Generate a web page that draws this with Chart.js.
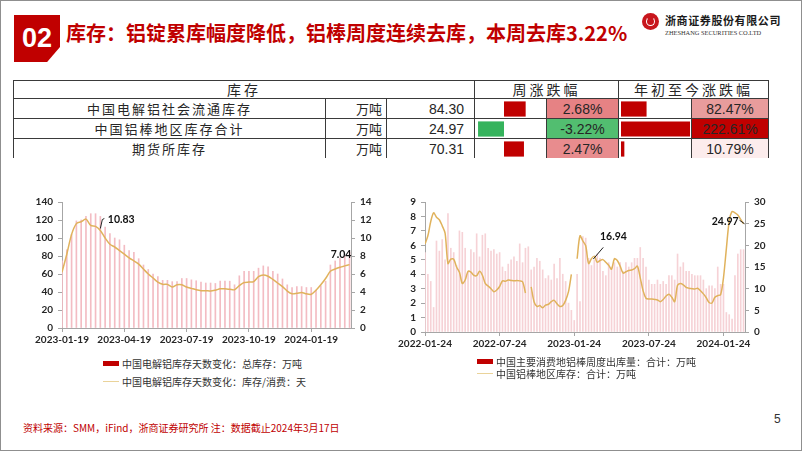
<!DOCTYPE html>
<html lang="zh">
<head>
<meta charset="utf-8">
<title>库存</title>
<script src="https://cdn.jsdelivr.net/npm/chart.js@4.4.1/dist/chart.umd.min.js"></script>
<style>
  html, body { margin: 0; padding: 0; background: #fff; }
  body { width: 802px; height: 451px; position: relative; overflow: hidden;
         font-family: "Noto Sans CJK SC", "Noto Sans", sans-serif; }
  .frame { position: absolute; left: 0; top: 0; width: 800px; height: 449px; border: 1px solid #8f8f8f; }
  .badge { position: absolute; left: 14px; top: 15px; width: 46px; height: 47px; background: #c00000;
           clip-path: polygon(0 0, 100% 0, 100% 68%, 72% 100%, 0 100%);
           color: #fff; font: bold 27px "Liberation Sans", Arial, sans-serif; line-height: 47px; text-align: center; }
  .title { position: absolute; left: 66px; top: 19px; font-size: 20px; font-weight: bold; color: #c00000;
           white-space: nowrap; line-height: 28px; }
  .logo { position: absolute; left: 642px; top: 13px; width: 17px; height: 17px; border-radius: 50%; background: #c8161d; }
  .logo::after { content: ""; position: absolute; left: 4px; top: 4px; width: 7px; height: 7px; border-radius: 50%;
                 border: 1.5px solid #fff; border-top-color: transparent; }
  .logo-cn { position: absolute; left: 665px; top: 12px; font-size: 11px; font-weight: bold; color: #1a1a1a; letter-spacing: 0.6px; }
  .logo-en { position: absolute; left: 665px; top: 29px; font: 6.4px "Liberation Serif", serif; color: #333; white-space: nowrap; }

  table.inv { position: absolute; left: 13px; top: 80px; border-collapse: collapse; table-layout: fixed; width: 755px; }
  table.inv td { border: 1px solid #3a3a3a; padding: 0; height: 19px; line-height: 19px; font-size: 13px;
                 color: #262626; white-space: nowrap; overflow: hidden; }
  table.inv tr.head td { height: 17px; line-height: 17px; text-align: center; font-size: 14px; letter-spacing: 3px; }
  table.inv tr:last-child td { border-bottom: none; }
  td.name { text-align: center; letter-spacing: 2px; }
  td.unit { text-align: right; padding-right: 4px !important; }
  td.val { text-align: right; padding-right: 10px !important; font: 14px "Liberation Sans", Arial, sans-serif !important; }
  td.pct { text-align: center; font: 14px "Liberation Sans", Arial, sans-serif !important; }
  .mini { position: absolute; top: 99px; }

  .legend { position: absolute; font-size: 10px; color: #333; }
  .legend .row { display: flex; align-items: center; white-space: nowrap; }
  .legend .sw { width: 16px; margin-right: 3px; flex: none; }
  .note { position: absolute; left: 23px; top: 420px; font-size: 10px; color: #c00000; white-space: nowrap; }
  .page { position: absolute; left: 774px; top: 412px; font: 12px "Liberation Sans", Arial, sans-serif; color: #333; }
  canvas.main { position: absolute; }
</style>
</head>
<body>
<div class="frame"></div>
<div class="badge">02</div>
<div class="title">库存：铝锭累库幅度降低，铝棒周度连续去库，本周去库3.22%</div>
<div class="logo"></div>
<div class="logo-cn">浙商证券股份有限公司</div>
<div class="logo-en">ZHESHANG SECURITIES CO.LTD</div>

<table class="inv" id="inv">
  <colgroup>
    <col style="width:312px"><col style="width:61px"><col style="width:88px">
    <col style="width:72px"><col style="width:72px"><col style="width:73px"><col style="width:77px">
  </colgroup>
  <tbody>
    <tr class="head"><td colspan="3">库存</td><td colspan="2">周涨跌幅</td><td colspan="2">年初至今涨跌幅</td></tr>
  </tbody>
</table>
<canvas class="mini" id="weekBars" width="72" height="60" style="left:474px"></canvas>
<canvas class="mini" id="ytdBars" width="73" height="60" style="left:618px"></canvas>

<canvas class="main" id="aluChart" width="385" height="162" style="left:10px;top:190px"></canvas>
<canvas class="main" id="rodChart" width="395" height="166" style="left:395px;top:190px"></canvas>

<div class="legend" id="aluLegend" style="left:103px;top:354px"></div>
<div class="legend" id="rodLegend" style="left:477px;top:355px"></div>

<div class="note">资料来源：SMM，iFind，浙商证券研究所 注：数据截止2024年3月17日</div>
<div class="page">5</div>

<script>
// table data
const invNames = ["中国电解铝社会流通库存", "中国铝棒地区库存合计", "期货所库存"];
const invUnits = ["万吨", "万吨", "万吨"];
const invValues = [84.30, 24.97, 70.31];
const weekChg = [2.68, -3.22, 2.47];
const ytdChg = [82.47, 222.61, 10.79];

// left chart: 电解铝 weekly
const aluTicks = ["2023-01-19", "2023-04-19", "2023-07-19", "2023-10-19", "2024-01-19"];
const aluStock = [74.5, 87, 104, 119, 120, 124, 127, 127, 124, 112,
  105, 100, 98, 92, 86, 84, 77, 70, 65, 60,
  57, 53, 53, 51.5, 51.5, 55, 55, 53.5, 52.5, 51,
  50, 50, 49.5, 52, 52, 52, 48, 58, 63, 63,
  63, 66.5, 69, 68, 63, 60, 54.5, 48, 45, 46,
  46, 45, 45, 42, 47, 52, 70, 74.5, 77.5, 80, 84.3];
const aluDays = [6.2, 8.2, 10.4, 11.6, 11.8, 12.1, 11.4, 11.3, 10.83, 10.0,
  9.3, 9.0, 8.6, 8.2, 7.8, 7.45, 7.1, 6.55, 6.0, 5.55,
  5.1, 4.85, 4.85, 4.55, 4.8, 4.8, 4.55, 4.4, 4.25, 4.15,
  4.15, 4.1, 4.2, 4.35, 4.35, 4.3, 4.25, 4.7, 5.05, 5.1,
  5.15, 5.7, 5.9, 5.75, 5.4, 5.0, 4.6, 4.1, 3.8, 3.85,
  3.95, 3.8, 3.75, 4.2, 4.8, 5.5, 6.3, 6.55, 6.75, 6.9, 7.04];

// right chart: 铝棒 weekly
const rodTicks = ["2022-01-24", "2022-07-24", "2023-01-24", "2023-07-24", "2024-01-24"];
const rodOutflow = [5.5, 4.0, 3.5, 1.7, 6.3, 5.6, 6.4, 5.0, 8.2, 5.8,
  5.5, 4.6, 7.0, 6.9, 5.8, 4.2, 5.7, 5.5, 6.8, 5.2,
  6.7, 6.8, 5.8, 5.6, 5.7, 5.4, 5.5, 4.5, 4.2, 4.7,
  5.0, 5.2, 4.9, 6.1, 4.8, 5.8, 5.9, 4.3, 4.5, 5.1,
  4.9, 4.3, 3.7, 3.9, 3.6, 4.7, 3.7, 5.1, 4.0, 3.5,
  2.0, 1.5, 0.8, 4.0, 2.1, 6.6, 6.5, 5.1, 4.6, 5.0,
  5.4, 5.1, 4.2, 3.9, 4.8, 4.5, 4.8, 4.5, 4.8, 4.2,
  4.8, 4.5, 4.8, 5.1, 5.1, 5.85, 5.1, 4.5, 3.6, 3.3,
  3.3, 3.6, 3.3, 3.5, 3.3, 3.9, 3.9, 3.6, 5.4, 4.5,
  4.8, 4.2, 4.2, 4.0, 3.9, 3.9, 3.9, 3.6, 3.0, 3.2,
  3.2, 3.0, 4.5, 3.3, 3.3, 1.35, 1.2, 0.9, 3.9, 5.4, 5.7, 5.7];
const rodStock = [20.3, 22.2, 25.5, 27.5, 26.5, 25.9, 24.5, 22.8, 15.8, 16.8,
  16.8, 15.0, 13.8, 11.2, 12.0, 14.0, 13.8, 13.1, 13.0, 14.0,
  13.1, 11.2, 10.6, 10.0, 9.3, 9.7, 10.5, 11.8, 11.7, 12.0,
  11.9, 11.8, 11.9, 11.8, 11.6, 9.0, null, 10.4, 7.0, 5.9,
  6.1, 5.6, 6.2, 6.4, 7.0, 7.3, 6.5, 5.9, 6.1, 7.3,
  9.3, 13.3, null, 16.9, 22.2, 21.0, 19.9, 15.8, 16.94, 17.5,
  16.1, 16.5, 16.7, 16.1, 15.4, 14.5, 16.9, 16.5, 15.2, 13.6,
  13.9, 14.2, 14.3, 14.6, 15.2, 12.5, 9.5, 7.8, 7.6, 7.6,
  7.5, 7.4, 7.0, 7.5, 8.3, 8.7, 8.0, 7.0, 10.8, 11.2,
  10.9, 10.3, 10.1, 10.0, 9.9, 10.1, 9.5, 8.8, 7.9, 6.8,
  6.7, 8.0, 8.4, 8.6, 12.5, 19.2, 25.6, 27.8, 27.5, 27.0, 26.0, 24.97];

// ---------- table ----------
function mix(a, b, t) {
  return "rgb(" + a.map((c, k) => Math.round(c + (b[k] - c) * t)).join(",") + ")";
}
function weekColor(v) {
  if (v < 0) return "rgb(82,190,112)";
  const maxPos = Math.max(...weekChg);
  return mix([255, 255, 255], [230, 130, 132], v / maxPos);
}
function ytdColor(v) {
  const lo = Math.min(...ytdChg), hi = Math.max(...ytdChg);
  return mix([252, 236, 236], [192, 0, 0], (v - lo) / (hi - lo));
}
const tbody = document.querySelector("#inv tbody");
invNames.forEach((name, i) => {
  const tr = document.createElement("tr");
  tr.innerHTML =
    '<td class="name">' + name + '</td>' +
    '<td class="unit">' + invUnits[i] + '</td>' +
    '<td class="val">' + invValues[i].toFixed(2) + '</td>' +
    '<td></td>' +
    '<td class="pct" style="background:' + weekColor(weekChg[i]) + '">' + weekChg[i].toFixed(2) + '%</td>' +
    '<td></td>' +
    '<td class="pct" style="background:' + ytdColor(ytdChg[i]) + '">' + ytdChg[i].toFixed(2) + '%</td>';
  tbody.appendChild(tr);
});

// data bars inside the table
function miniBars(id, values, min, max) {
  new Chart(document.getElementById(id), {
    type: "bar",
    data: {
      labels: invNames,
      datasets: [{
        data: values,
        backgroundColor: values.map(v => v < 0 ? "#35b35c" : "#c00000"),
        barPercentage: 0.76,
        categoryPercentage: 1
      }]
    },
    options: {
      indexAxis: "y",
      responsive: false,
      animation: false,
      layout: { padding: 0 },
      plugins: { legend: { display: false }, tooltip: { enabled: false } },
      scales: {
        x: { display: false, min: min, max: max },
        y: { display: false }
      }
    }
  });
}
miniBars("weekBars", weekChg, -3.72, 5.2);
miniBars("ytdBars", ytdChg, -9.7, 225.8);

// ---------- charts ----------
const tickFont = { family: 'Lato, "Liberation Sans", sans-serif', size: 10, weight: "bold" };
const tickColor = "#262626";
const axisGray = "#a6a6a6";
const barRed = "#c00000";
const lineGold = "#e0b25c";

// value labels with a short leader line
const pointLabels = {
  id: "pointLabels",
  afterDatasetsDraw(chart, args, opts) {
    const ctx = chart.ctx;
    ctx.save();
    ctx.font = 'bold 10.5px Lato, "Liberation Sans", sans-serif';
    ctx.fillStyle = "#111";
    ctx.strokeStyle = "#222";
    ctx.lineWidth = 1;
    ctx.textBaseline = "middle";
    for (const it of opts.items || []) {
      const pt = chart.getDatasetMeta(it.dataset).data[it.index];
      const value = chart.data.datasets[it.dataset].data[it.index].y;
      if (it.leader) {
        ctx.beginPath();
        ctx.moveTo(pt.x + it.leader[0][0], pt.y + it.leader[0][1]);
        for (let k = 1; k < it.leader.length; k++) ctx.lineTo(pt.x + it.leader[k][0], pt.y + it.leader[k][1]);
        ctx.stroke();
      }
      ctx.textAlign = it.align || "left";
      ctx.fillText(value.toFixed(2), pt.x + it.dx, pt.y + it.dy);
    }
    ctx.restore();
  }
};

function axisY(pos, min, max, step, width) {
  return {
    position: pos, min: min, max: max,
    ticks: { stepSize: step, autoSkip: false, font: tickFont, color: tickColor, padding: 5 },
    grid: { drawOnChartArea: false, color: axisGray, tickLength: 4 },
    border: { color: axisGray },
    afterFit: s => { s.width = width; }
  };
}
function axisX(max, step, labels) {
  return {
    type: "linear", min: 0, max: max, offset: false,
    ticks: {
      stepSize: step, includeBounds: false, autoSkip: false, maxRotation: 0,
      font: tickFont, color: tickColor, padding: 2,
      callback: v => labels[Math.round(v / step)] || ""
    },
    grid: { drawOnChartArea: false, offset: false, color: axisGray, tickLength: 4 },
    border: { color: axisGray }
  };
}

const aluChart = new Chart(document.getElementById("aluChart"), {
  type: "bar",
  data: {
    datasets: [
      {
        type: "bar", label: "中国电解铝库存天数变化：总库存：万吨",
        data: aluStock.map((v, i) => ({ x: i, y: v })),
        yAxisID: "y", backgroundColor: "#f3bcc3", barThickness: 1, order: 2
      },
      {
        type: "line", label: "中国电解铝库存天数变化：库存/消费：天",
        data: aluDays.map((v, i) => ({ x: i, y: v })),
        yAxisID: "y1", borderColor: lineGold, borderWidth: 1.5, pointRadius: 0, tension: 0.3, order: 1
      }
    ]
  },
  options: {
    responsive: false,
    animation: false,
    layout: { padding: { top: 12, bottom: 4, left: 0, right: 0 } },
    plugins: {
      legend: { display: false },
      tooltip: { enabled: false },
      pointLabels: {
        items: [
          { dataset: 1, index: 8, dx: 7.5, dy: -11, leader: [[0, -2], [2, -11], [4, -12]] },
          { dataset: 1, index: 60, dx: -8.5, dy: -10.5, align: "center" }
        ]
      }
    },
    scales: {
      x: axisX(60.3, 13, aluTicks),
      y: axisY("left", 0, 140, 20, 52),
      y1: axisY("right", 0, 14, 2, 44)
    }
  },
  plugins: [pointLabels]
});

const rodChart = new Chart(document.getElementById("rodChart"), {
  type: "bar",
  data: {
    datasets: [
      {
        type: "bar", label: "中国主要消费地铝棒周度出库量：合计：万吨",
        data: rodOutflow.map((v, i) => ({ x: i, y: v })),
        yAxisID: "y", backgroundColor: "#f6d2d6", barThickness: 1, order: 2
      },
      {
        type: "line", label: "中国铝棒地区库存：合计：万吨",
        data: rodStock.map((v, i) => ({ x: i, y: v })),
        yAxisID: "y1", borderColor: lineGold, borderWidth: 1.5, pointRadius: 0, tension: 0.3, order: 1
      }
    ]
  },
  options: {
    responsive: false,
    animation: false,
    layout: { padding: { top: 12, bottom: 4, left: 0, right: 0 } },
    plugins: {
      legend: { display: false },
      tooltip: { enabled: false },
      pointLabels: {
        items: [
          { dataset: 1, index: 58, dx: 8.5, dy: -21.5, leader: [[1.8, 0.5], [11.8, -11.2]] },
          { dataset: 1, index: 111, dx: -5, dy: -2.5, align: "right", leader: [[-4, -3.5], [1, 0]] }
        ]
      }
    },
    scales: {
      x: axisX(111.5, 26, rodTicks),
      y: axisY("left", 0, 9, 1, 30),
      y1: axisY("right", 0, 30, 5, 45)
    }
  },
  plugins: [pointLabels]
});

// html legends built from the datasets
function buildLegend(chart, id, rowHeight) {
  const box = document.getElementById(id);
  chart.data.datasets.forEach(ds => {
    const row = document.createElement("div");
    row.className = "row";
    row.style.height = rowHeight + "px";
    const sw = document.createElement("span");
    sw.className = "sw";
    if (ds.type === "bar") {
      sw.style.height = "5px";
      sw.style.background = barRed;
    } else {
      sw.style.height = "0";
      sw.style.borderTop = "1.5px solid #ead39a";
    }
    const tx = document.createElement("span");
    tx.textContent = ds.label;
    row.appendChild(sw);
    row.appendChild(tx);
    box.appendChild(row);
  });
}
buildLegend(aluChart, "aluLegend", 18);
buildLegend(rodChart, "rodLegend", 12);
</script>
</body>
</html>
